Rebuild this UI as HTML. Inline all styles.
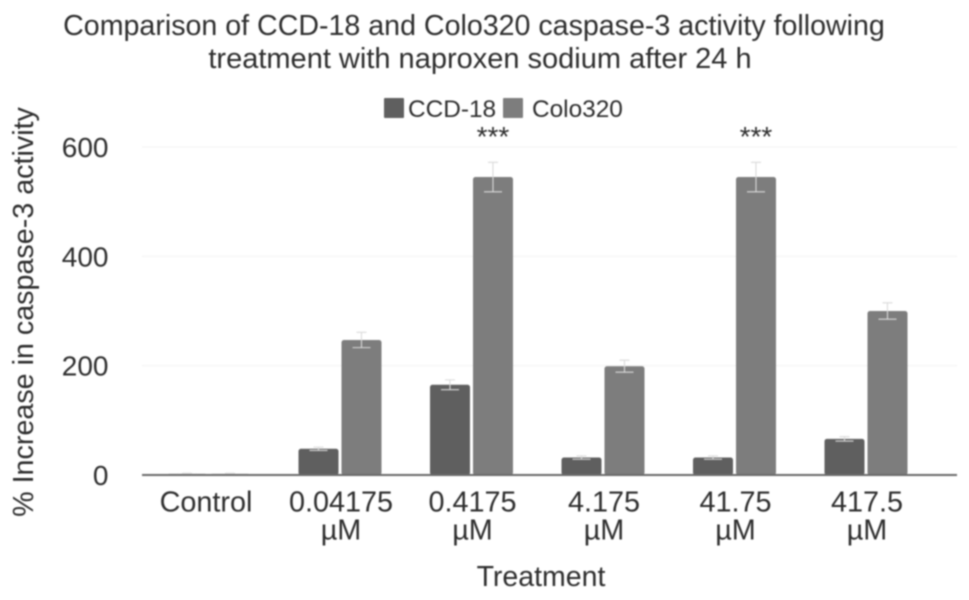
<!DOCTYPE html>
<html>
<head>
<meta charset="utf-8">
<style>
html,body{margin:0;padding:0;background:#fff;}
svg{display:block;filter:blur(0.7px);}
text{font-family:"Liberation Sans",sans-serif;fill:#2e2e2e;}
</style>
</head>
<body>
<svg id="chart" width="969" height="600" viewBox="0 0 969 600">
<g>
<text x="474" y="35" text-anchor="middle" font-size="28.6">Comparison of CCD-18 and Colo320 caspase-3 activity following</text>
<text x="480" y="68" text-anchor="middle" font-size="29">treatment with naproxen sodium after 24 h</text>
</g>
<g>
<rect x="384" y="98" width="20" height="20" rx="1" fill="#5f5f5f"/>
<text x="408" y="117" font-size="24.4">CCD-18</text>
<rect x="503" y="98" width="20" height="20" rx="1" fill="#7d7d7d"/>
<text x="532" y="117" font-size="24.4">Colo320</text>
</g>
<text transform="translate(33,312) rotate(-90)" text-anchor="middle" font-size="28.7">% Increase in caspase-3 activity</text>
<text x="541" y="586" text-anchor="middle" font-size="28.5">Treatment</text>
<g id="plot"></g>
</svg>
<script>
var categories = [["Control"], ["0.04175", "µM"], ["0.4175", "µM"], ["4.175", "µM"], ["41.75", "µM"], ["417.5", "µM"]];
var ccd18Values = [2, 48, 165, 32, 32, 66];
var ccd18Errors = [1, 3, 9, 3, 3, 4];
var colo320Values = [2, 247, 545, 199, 545, 300];
var colo320Errors = [1, 14, 27, 11, 27, 15];
var significance = ["", "", "***", "", "***", ""];
var yTicks = [0, 200, 400, 600];

var NS = "http://www.w3.org/2000/svg";
var plot = document.getElementById("plot");
var left = 142, right = 957, y0 = 475, pxPerUnit = 0.5467;
var firstCenter = 208.5, groupStep = 131.5, barW = 40, barGap = 3;

function yScale(v) { return y0 - v * pxPerUnit; }
function xCenter(i) { return firstCenter + i * groupStep; }
function make(tag, attrs) {
  var el = document.createElementNS(NS, tag);
  for (var k in attrs) el.setAttribute(k, attrs[k]);
  plot.appendChild(el);
  return el;
}

yTicks.forEach(function (t) {
  if (t !== 0) {
    var grid = make("line", { x1: left, x2: right, y1: yScale(t), y2: yScale(t), stroke: "#f2f2f2", "stroke-width": 1 });
    
    
  }
  var label = make("text", { x: 108.5, y: yScale(t) + 10, "text-anchor": "end", "font-size": 28 });
  label.textContent = t;
  
  
});

function drawBar(value, err, x, fill, name) {
  var top = yScale(value);
  var bar = make("rect", { x: x, y: top, width: barW, height: y0 - top, rx: 2.5, fill: fill });
  
  
  var cx = x + barW / 2;
  var hi = yScale(value + err), lo = yScale(value - err);
  var stem = make("path", {
    d: "M" + cx + " " + hi + "V" + lo + "M" + (cx - 9) + " " + lo + "H" + (cx + 9) + "M" + (cx - 5) + " " + hi + "H" + (cx + 5),
    stroke: "#dadada", "stroke-width": 1.1, fill: "none"
  });
  
  
}

categories.forEach(function (lines, i) {
  var c = xCenter(i);
  drawBar(ccd18Values[i], ccd18Errors[i], c - barW - barGap / 2, "#5f5f5f", "bar-ccd18-" + i);
  drawBar(colo320Values[i], colo320Errors[i], c + barGap / 2, "#7d7d7d", "bar-colo320-" + i);
  lines.forEach(function (line, j) {
    var t = make("text", { x: c + (i === 0 ? -2.5 : 1), y: 511.5 + j * 28, "text-anchor": "middle", "font-size": 28.8 });
    t.textContent = line;
    
    
  });
  if (significance[i]) {
    var s = make("text", { x: c + 21.5, y: 146, "text-anchor": "middle", "font-size": 28 });
    s.textContent = significance[i];
    
    
  }
});

var axis = make("line", { x1: left, x2: right, y1: y0, y2: y0, stroke: "#6a6a6a", "stroke-width": 2 });


</script>
</body>
</html>
